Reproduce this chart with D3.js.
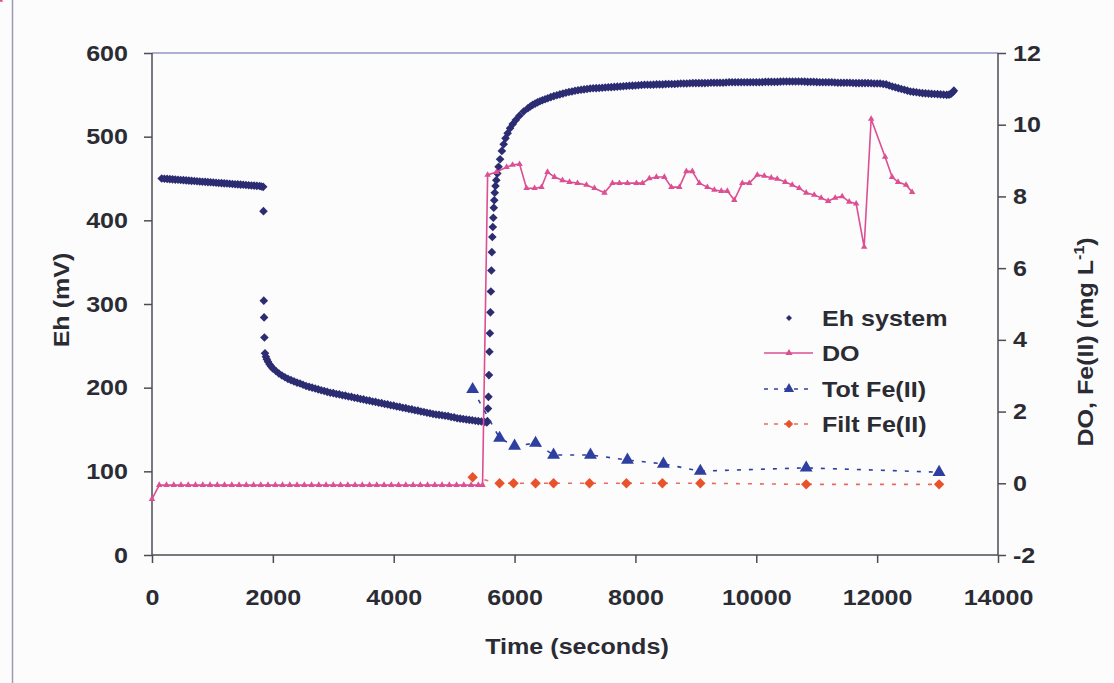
<!DOCTYPE html>
<html>
<head>
<meta charset="utf-8">
<script src="https://cdn.jsdelivr.net/npm/d3@7"></script>
<style>
  html, body { margin: 0; padding: 0; background: #fcfcfd; }
  svg { display: block; }
  text { font-family: "Liberation Sans", Arial, sans-serif; font-weight: bold; fill: #2b2b33; }
</style>
</head>
<body>
<svg id="chart" width="1114" height="683"></svg>
<script>
// Eh of the system (mV) against time (s)
const ehSystem = [
  [160,450],[205,449.7],[250,449.5],[295,449.2],[340,449],[385,448.7],[430,448.5],[475,448.2],
  [520,448],[565,447.7],[610,447.5],[655,447.2],[700,447],[745,446.7],[790,446.5],[835,446.2],
  [880,446],[925,445.7],[970,445.5],[1015,445.2],[1060,445],[1105,444.7],[1150,444.5],[1195,444.2],
  [1240,444],[1285,443.7],[1330,443.5],[1375,443.2],[1420,443],[1465,442.7],[1510,442.5],[1555,442.2],
  [1600,442],[1645,441.7],[1690,441.5],[1735,441.2],[1780,441],[1810,440.5],[1840,440],
  [1845,411],[1850,304],[1855,284],[1860,260],
  [1870,241],[1885,237],[1900,234],[1920,231],[1945,228],[1970,225.5],[2000,223],[2050,220],
  [2100,217],[2150,214.5],[2200,212.5],[2250,210.5],[2300,209],[2350,207.5],[2400,206],[2450,205],
  [2500,203.5],[2550,202],[2600,201],[2650,200],[2700,199],[2750,198],[2800,197],[2850,196],
  [2900,195],[2950,194],[3000,193.5],[3050,192.5],[3100,192],[3150,191],[3200,190.5],[3250,189.5],
  [3300,189],[3350,188],[3400,187.5],[3450,186.5],[3500,186],[3550,185],[3600,184.5],[3650,183.5],
  [3700,183],[3750,182],[3800,181.5],[3850,180.5],[3900,180],[3950,179],[4000,178.5],[4050,177.5],
  [4100,177],[4150,176],[4200,175.5],[4250,174.5],[4300,174],[4350,173],[4400,172.5],[4450,171.5],
  [4500,171],[4550,170],[4600,169.5],[4650,168.5],[4700,168],[4750,167.5],[4800,167],[4850,166.5],
  [4900,166],[4950,165],[5000,164.5],[5050,163.5],[5100,163],[5150,162.5],[5200,162],[5250,161.5],
  [5300,161],[5350,160.5],[5400,160],[5450,159.5],[5500,159],[5540,158.5],
  [5550,160],[5560,175],[5568,189],[5576,215],[5584,243],[5592,265],[5600,290],[5608,315],
  [5616,340],[5624,362],[5632,380],[5640,392],[5648,403],[5656,415],[5664,424],[5672,433],
  [5684,441],[5698,448],[5715,456],[5735,464],[5760,473],[5790,483],[5820,491],[5850,498],
  [5885,504],[5925,510],[5970,515],[6020,520],[6080,525],[6150,530],[6220,534],[6260,536],
  [6300,538],[6340,539.5],[6380,541],[6420,542.3],[6460,543.5],[6505,544.8],[6550,546],[6600,547.3],
  [6650,548.5],[6700,549.5],[6750,550.5],[6800,551.5],[6850,552.5],[6900,553.3],[6950,554],[7000,554.8],
  [7050,555.5],[7100,556],[7150,556.5],[7200,557],[7250,557.5],[7300,557.8],[7350,558],[7400,558.2],
  [7450,558.5],[7500,558.8],[7550,559],[7600,559.2],[7650,559.5],[7700,559.8],[7750,560],[7800,560.2],
  [7850,560.5],[7900,560.8],[7950,561],[8000,561.2],[8050,561.5],[8100,561.8],[8150,562],[8200,562],
  [8250,562],[8300,562.2],[8350,562.5],[8400,562.5],[8450,562.5],[8500,562.8],[8550,563],[8600,563],
  [8650,563],[8700,563.2],[8750,563.5],[8800,563.5],[8850,563.5],[8900,563.8],[8950,564],[9000,564],
  [9050,564],[9100,564],[9150,564],[9200,564.2],[9250,564.5],[9300,564.5],[9350,564.5],[9400,564.5],
  [9450,564.5],[9500,564.8],[9550,565],[9600,565],[9650,565],[9700,565],[9750,565],[9800,565],
  [9850,565],[9900,565],[9950,565],[10000,565],[10050,565],[10100,565.2],[10150,565.5],[10200,565.5],
  [10250,565.5],[10300,565.5],[10350,565.5],[10400,565.8],[10450,566],[10500,566],[10550,566],[10600,566],
  [10650,566],[10700,566],[10750,566],[10800,565.8],[10850,565.5],[10900,565.5],[10950,565.5],[11000,565.2],
  [11050,565],[11100,565],[11150,565],[11200,565],[11250,565],[11300,564.8],[11350,564.5],[11400,564.5],
  [11450,564.5],[11500,564.5],[11550,564.5],[11600,564.2],[11650,564],[11700,564],[11750,564],[11800,564],
  [11850,564],[11900,563.8],[11950,563.5],[12000,563.5],[12050,563.5],[12100,563],[12150,562.5],[12200,561.2],
  [12250,560],[12300,559],[12350,558],[12400,557],[12450,556],[12500,555],[12550,554],[12600,553.5],
  [12650,553],[12700,552.5],[12750,552],[12800,551.8],[12850,551.5],[12900,551.2],[12950,551],[13000,550.8],
  [13050,550.5],[13100,550.2],[13150,550],[13190,550.3],[13220,551],[13250,553],[13270,555]
];

// Dissolved oxygen (mg/L) against time (s)
const doTime = [
  0,120,240,360,480,600,720,840,960,1080,1200,1320,1440,1560,1680,1800,1920,2040,2160,2280,
  2400,2520,2640,2760,2880,3000,3120,3240,3360,3480,3600,3720,3840,3960,4080,4200,4320,4440,
  4560,4680,4800,4920,5040,5160,5280,5400,5470,
  5554,5702,5868,5967,6083,6198,6331,6446,6545,6661,6793,6909,7041,7190,7322,7488,7620,7736,
  7868,8017,8116,8231,8347,8479,8595,8727,8843,8942,9058,9190,9306,9421,9521,9636,9769,9884,
  10017,10132,10248,10347,10479,10595,10711,10826,10959,11074,11190,11306,11421,11537,11653,
  11785,11901,12132,12248,12347,12479,12579,12711
];
const doValue = [
  -0.44,-0.05,-0.05,-0.05,-0.05,-0.05,-0.05,-0.05,-0.05,-0.05,-0.05,-0.05,-0.05,-0.05,-0.05,
  -0.05,-0.05,-0.05,-0.05,-0.05,-0.05,-0.05,-0.05,-0.05,-0.05,-0.05,-0.05,-0.05,-0.05,-0.05,
  -0.05,-0.05,-0.05,-0.05,-0.05,-0.05,-0.05,-0.05,-0.05,-0.05,-0.05,-0.05,-0.05,-0.05,-0.05,
  -0.05,-0.05,
  8.6,8.68,8.82,8.88,8.9,8.23,8.23,8.26,8.68,8.54,8.45,8.4,8.37,8.32,8.23,8.1,8.37,8.37,
  8.37,8.37,8.37,8.5,8.54,8.54,8.26,8.26,8.7,8.7,8.37,8.26,8.18,8.15,8.15,7.9,8.37,8.37,
  8.6,8.57,8.52,8.49,8.4,8.32,8.23,8.1,8.04,7.96,7.87,7.96,8.0,7.85,
  7.8,6.59,10.16,9.1,8.54,8.4,8.32,8.12
];

// Total and filtered Fe(II) (mg/L) against time (s)
const totFeTime  = [5306,5752,6000,6347,6645,7256,7868,8463,9074,10826,13025];
const totFeValue = [2.62,1.26,1.04,1.12,0.79,0.79,0.65,0.54,0.34,0.43,0.31];
const filtFeTime  = [5306,5752,5983,6347,6645,7240,7851,8446,9074,10826,13025];
const filtFeValue = [0.17,0.0,0.0,0.0,0.0,0.0,0.0,0.0,0.0,-0.03,-0.03];

// Axis ticks and labels
const xTicks = [0,2000,4000,6000,8000,10000,12000,14000];
const ehTicks = [0,100,200,300,400,500,600];
const rightTicks = [-2,0,2,4,6,8,10,12];
const legendLabels = ["Eh system","DO","Tot Fe(II)","Filt Fe(II)"];

const colors = { eh: "#2c2c72", dox: "#dc4f92", tot: "#2f3fa0", filt: "#e8532c", filtLine: "#e86a5a", axis: "#4c4c56", frame: "#9494c4" };
const stretch = 1.14;

const svg = d3.select("#chart");
const x  = d3.scaleLinear().domain([0,14000]).range([152,998]);
const yL = d3.scaleLinear().domain([0,600]).range([555,53]);
const yR = d3.scaleLinear().domain([-2,12]).range([555,53]);

function widen(sel) {
  sel.each(function() {
    const len = this.getComputedTextLength();
    d3.select(this).attr("textLength", len * stretch).attr("lengthAdjust", "spacingAndGlyphs");
  });
}

// page edge on the left
svg.append("line").attr("x1",12.5).attr("x2",12.5).attr("y1",0).attr("y2",683)
  .attr("stroke","#9a9ab4").attr("stroke-width",1.5);

// plot top border
svg.append("line").attr("x1",x(0)).attr("x2",x(14000)).attr("y1",yL(600)).attr("y2",yL(600))
  .attr("stroke",colors.frame).attr("stroke-width",1.5);

// axes
const fontSize = 22;
const plain = d => String(d);
const gL = svg.append("g").attr("transform",`translate(${x(0)},0)`)
  .call(d3.axisLeft(yL).tickValues(ehTicks).tickFormat(plain).tickSize(8).tickPadding(16));
const gB = svg.append("g").attr("transform",`translate(0,${yL(0)})`)
  .call(d3.axisBottom(x).tickValues(xTicks).tickFormat(plain).tickSize(8).tickPadding(26));
const gR = svg.append("g").attr("transform",`translate(${x(14000)},0)`)
  .call(d3.axisRight(yR).tickValues(rightTicks).tickFormat(plain).tickSize(8).tickPadding(7));
[gL,gB,gR].forEach(g => {
  g.select(".domain").attr("stroke",colors.axis).attr("stroke-width",1.5);
  g.selectAll(".tick line").attr("stroke",colors.axis).attr("stroke-width",1.5);
  g.selectAll(".tick text").attr("font-size",fontSize).attr("font-family",null).attr("fill","#2b2b33").call(widen);
});
gL.select(".domain").attr("d",`M-0,${yL(0)}V${yL(600)}`);
gB.select(".domain").attr("d",`M${x(0)},0H${x(14000)}`);
gR.select(".domain").attr("d",`M0,${yR(-2)}V${yR(12)}`);

// axis titles
svg.append("text").attr("x",577).attr("y",654).attr("text-anchor","middle")
  .attr("font-size",fontSize).text("Time (seconds)").call(widen);
svg.append("text").attr("transform","translate(69,300) rotate(-90)").attr("text-anchor","middle")
  .attr("font-size",fontSize).text("Eh (mV)").call(widen);
const rt = svg.append("text").attr("transform","translate(1093,342) rotate(-90)").attr("text-anchor","middle")
  .attr("font-size",fontSize);
rt.append("tspan").text("DO, Fe(II) (mg L");
rt.append("tspan").attr("font-size",14).attr("dy",-9).text("-1");
rt.append("tspan").attr("dy",9).text(")");
widen(rt);

const diamond = r => `M0,${-r}L${r},0L0,${r}L${-r},0Z`;
const tri = d3.symbol().type(d3.symbolTriangle);

// Eh system
svg.append("g").selectAll("path").data(ehSystem).join("path")
  .attr("d", diamond(4.3))
  .attr("transform", d => `translate(${x(d[0])},${yL(d[1])})`)
  .attr("fill", colors.eh);

// DO
const doData = doTime.map((t,i) => [t, doValue[i]]);
svg.append("path").datum(doData)
  .attr("d", d3.line().x(d => x(d[0])).y(d => yR(d[1])))
  .attr("fill","none").attr("stroke",colors.dox).attr("stroke-width",1.6);
svg.append("g").selectAll("path").data(doData).join("path")
  .attr("d", tri.size(18)())
  .attr("transform", d => `translate(${x(d[0])},${yR(d[1])})`)
  .attr("fill", colors.dox);

// Tot Fe(II)
const totData = totFeTime.map((t,i) => [t, totFeValue[i]]);
svg.append("path").datum(totData)
  .attr("d", d3.line().x(d => x(d[0])).y(d => yR(d[1])))
  .attr("fill","none").attr("stroke",colors.tot).attr("stroke-width",1.6).attr("stroke-dasharray","4,8");
svg.append("g").selectAll("path").data(totData).join("path")
  .attr("d", tri.size(72)())
  .attr("transform", d => `translate(${x(d[0])},${yR(d[1])})`)
  .attr("fill", colors.tot);

// Filt Fe(II)
const filtData = filtFeTime.map((t,i) => [t, filtFeValue[i]]);
svg.append("path").datum(filtData)
  .attr("d", d3.line().x(d => x(d[0])).y(d => yR(d[1])))
  .attr("fill","none").attr("stroke",colors.filtLine).attr("stroke-width",1.6).attr("stroke-dasharray","4,8");
svg.append("g").selectAll("path").data(filtData).join("path")
  .attr("d", diamond(5.2))
  .attr("transform", d => `translate(${x(d[0])},${yR(d[1])})`)
  .attr("fill", colors.filt);

// legend
const lg = svg.append("g");
const rows = [318, 353, 389, 424];
const mx = 789;
lg.append("path").attr("d", diamond(3)).attr("transform",`translate(${mx},${rows[0]})`).attr("fill",colors.eh);
lg.append("line").attr("x1",764).attr("x2",813).attr("y1",rows[1]).attr("y2",rows[1]).attr("stroke",colors.dox).attr("stroke-width",1.6);
lg.append("path").attr("d", tri.size(22)()).attr("transform",`translate(${mx},${rows[1]})`).attr("fill",colors.dox);
lg.append("line").attr("x1",764).attr("x2",813).attr("y1",rows[2]).attr("y2",rows[2]).attr("stroke",colors.tot).attr("stroke-width",1.6).attr("stroke-dasharray","4,6");
lg.append("path").attr("d", tri.size(45)()).attr("transform",`translate(${mx},${rows[2]})`).attr("fill",colors.tot);
lg.append("line").attr("x1",764).attr("x2",813).attr("y1",rows[3]).attr("y2",rows[3]).attr("stroke",colors.filtLine).attr("stroke-width",1.6).attr("stroke-dasharray","4,6");
lg.append("path").attr("d", diamond(4.2)).attr("transform",`translate(${mx},${rows[3]})`).attr("fill",colors.filt);
lg.selectAll("text").data(legendLabels).join("text")
  .attr("x",822).attr("y",(d,i) => rows[i]).attr("dy","0.36em")
  .attr("font-size",fontSize).text(d => d).call(widen);
</script>
</body>
</html>
